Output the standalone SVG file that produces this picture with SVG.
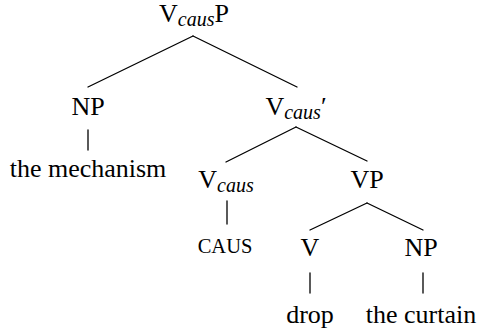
<svg xmlns="http://www.w3.org/2000/svg" width="481" height="330" viewBox="0 0 481 330">
  <style>
    .lbl { font-family: "Liberation Serif", "Times New Roman", serif; font-size: 26px; fill: #000; text-anchor: middle; }
    .sub { font-style: italic; font-size: 20px; }
    .sc { font-size: 20.5px; }
    .edge { stroke: #000; stroke-width: 1.3; fill: none; stroke-linecap: round; }
  </style>
  <rect width="481" height="330" fill="#fff"/>

  <!-- tree branches -->
  <g id="connectors">
    <line class="edge" x1="193" y1="36" x2="88" y2="87"/>
    <line class="edge" x1="193" y1="36" x2="297" y2="87"/>
    <line class="edge" x1="88" y1="130" x2="88" y2="150"/>
    <line class="edge" x1="296" y1="127" x2="226" y2="162"/>
    <line class="edge" x1="296" y1="127" x2="367" y2="161"/>
    <line class="edge" x1="227" y1="201" x2="227" y2="224"/>
    <line class="edge" x1="367" y1="203" x2="310" y2="230"/>
    <line class="edge" x1="367" y1="203" x2="423" y2="230"/>
    <line class="edge" x1="310" y1="273" x2="310" y2="293"/>
    <line class="edge" x1="423" y1="273" x2="423" y2="293"/>
  </g>

  <!-- node labels -->
  <g id="vcausp">
    <text class="lbl" x="194" y="22">V<tspan class="sub" dy="4">caus</tspan><tspan dy="-4">P</tspan></text>
  </g>
  <g id="np-subject">
    <text class="lbl" x="88" y="115">NP</text>
  </g>
  <g id="the-mechanism">
    <text class="lbl" x="88" y="177">the mechanism</text>
  </g>
  <g id="vcaus-bar">
    <text class="lbl" x="296" y="115">V<tspan class="sub" dy="4">caus</tspan><tspan dy="-4">&#8242;</tspan></text>
  </g>
  <g id="vcaus">
    <text class="lbl" x="226" y="188">V<tspan class="sub" dy="4">caus</tspan></text>
  </g>
  <g id="vp">
    <text class="lbl" x="367" y="188">VP</text>
  </g>
  <g id="caus">
    <text class="lbl sc" x="225" y="253">CAUS</text>
  </g>
  <g id="v">
    <text class="lbl" x="310" y="256">V</text>
  </g>
  <g id="np-object">
    <text class="lbl" x="421" y="256">NP</text>
  </g>
  <g id="drop">
    <text class="lbl" x="310" y="323">drop</text>
  </g>
  <g id="the-curtain">
    <text class="lbl" x="421" y="323">the curtain</text>
  </g>
</svg>
